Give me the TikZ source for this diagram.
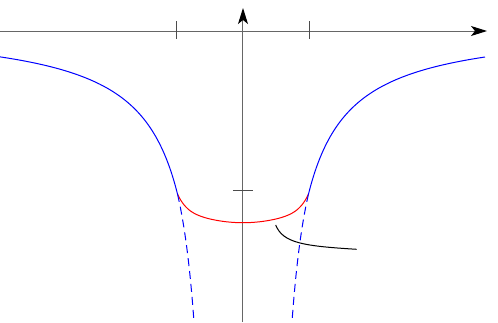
\documentclass[tikz,border=0pt]{standalone}
\usetikzlibrary{arrows.meta}
\begin{document}
\begin{tikzpicture}[x=1pt,y=1pt,
  axis/.style={draw=black!60, line width=1pt, -{Stealth[length=16pt,width=10pt,inset=4pt,black]}},
  tickmark/.style={draw=black!70, line width=1pt},
  outer/.style={blue, line width=1pt},
  inner/.style={red, line width=1pt},
  ext/.style={blue, line width=1pt, dash pattern=on 8pt off 5pt},
  pointer/.style={black, line width=1pt}]
\useasboundingbox (-243,-291) rectangle (255,31);
% axes
\coordinate (xs) at (-243,0);
\coordinate (xe) at (244,0);
\coordinate (ys) at (0,-291);
\coordinate (ye) at (0,23);
\draw[axis] (xs) -- (xe);
\draw[axis] (ys) -- (ye);
% ticks
\draw[tickmark] (-66,10) -- (-66,-8);
\draw[tickmark] (66,10) -- (66,-8);
\draw[tickmark] (-10,-159) -- (10,-159);
% outer (blue) branches
\draw[outer] plot[domain=-243:-65.5, samples=90, smooth] (\x, {7.14-7266/(-\x-22.8)});
\draw[outer] plot[domain=65.5:242, samples=90, smooth] (\x, {7.14-7266/(\x-22.8)});
% inner (red) arc
\draw[inner] plot[domain=-65.5:65.5, samples=80, smooth] (\x, {-191.7+14.5*(\x/65.5)^2+14.2*(\x/65.5)^8});
% dashed continuations
\draw[ext] plot[domain=-65.5:-49, samples=30, smooth] (\x, {-6114/(-\x-27.99)});
\draw[ext] plot[domain=65.5:49, samples=30, smooth] (\x, {-6114/(\x-27.99)});
% pointer line
\coordinate (p1) at (32.7,-194);
\coordinate (p2) at (113.7,-218.3);
\draw[pointer] (p1) .. controls (40,-212) and (60,-215) .. (p2);
\end{tikzpicture}
\end{document}
